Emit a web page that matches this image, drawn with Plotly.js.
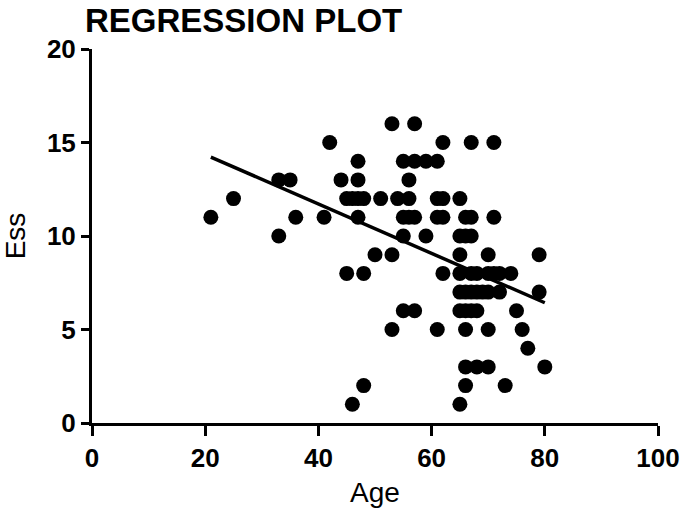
<!DOCTYPE html>
<html>
<head>
<meta charset="utf-8">
<script src="https://cdn.plot.ly/plotly-3.0.1.min.js"></script>
<style>
html,body{margin:0;padding:0;background:#fff;}
#chart{width:685px;height:518px;}
</style>
</head>
<body>
<div id="chart"></div>
<script>
// Scatter data (Age, Ess)
const age = [
  53, 57,
  42, 62, 67, 71,
  47, 55, 57, 59, 61,
  33, 35, 44, 47, 56,
  25, 45, 46, 47, 48, 51, 54, 56, 61, 62, 65,
  21, 36, 41, 47, 55, 56, 57, 61, 62, 66, 67, 71,
  33, 55, 59, 65, 66, 67,
  50, 53, 65, 70, 79,
  45, 48, 62, 65, 67, 68, 70, 71, 72, 74,
  65, 66, 67, 68, 69, 70, 72, 79,
  55, 57, 65, 66, 67, 68, 75,
  53, 61, 66, 70, 76,
  77,
  66, 68, 70, 80,
  48, 66, 73,
  46, 65
];
const ess = [
  16, 16,
  15, 15, 15, 15,
  14, 14, 14, 14, 14,
  13, 13, 13, 13, 13,
  12, 12, 12, 12, 12, 12, 12, 12, 12, 12, 12,
  11, 11, 11, 11, 11, 11, 11, 11, 11, 11, 11, 11,
  10, 10, 10, 10, 10, 10,
  9, 9, 9, 9, 9,
  8, 8, 8, 8, 8, 8, 8, 8, 8, 8,
  7, 7, 7, 7, 7, 7, 7, 7,
  6, 6, 6, 6, 6, 6, 6,
  5, 5, 5, 5, 5,
  4,
  3, 3, 3, 3,
  2, 2, 2,
  1, 1
];
// Regression line end points
const fitAge = [21, 80];
const fitEss = [14.22, 6.43];
// Tick values
const xTicks = [0, 20, 40, 60, 80, 100];
const yTicks = [0, 5, 10, 15, 20];

const FONT = 'Liberation Sans, Arial, Helvetica, sans-serif';

const traces = [
  {
    x: age, y: ess, type: 'scatter', mode: 'markers',
    marker: {color: '#000', size: 15, line: {width: 0}},
    cliponaxis: false, hoverinfo: 'none'
  },
  {
    x: fitAge, y: fitEss, type: 'scatter', mode: 'lines',
    line: {color: '#000', width: 3.5},
    cliponaxis: false, hoverinfo: 'none'
  }
];

const axisCommon = {
  showline: true, linecolor: '#000', linewidth: 3,
  ticks: 'outside', tickcolor: '#000', tickwidth: 3,
  showgrid: false, zeroline: false,
  tickfont: {family: FONT, size: 26, color: '#000', weight: 'bold'}
};

const layout = {
  width: 685, height: 518,
  margin: {l: 92, r: 27, t: 49, b: 95},
  paper_bgcolor: '#fff', plot_bgcolor: '#fff',
  showlegend: false,
  title: {
    text: 'REGRESSION PLOT',
    font: {family: FONT, size: 33, color: '#000', weight: 'bold'},
    xref: 'container', yref: 'container',
    x: 85/685, xanchor: 'left',
    y: 1 - 20/518, yanchor: 'middle'
  },
  xaxis: Object.assign({}, axisCommon, {
    range: [0, 100], tickvals: xTicks, ticktext: xTicks.map(String),
    ticklen: 10,
    title: {text: 'Age', font: {family: FONT, size: 28, color: '#000'}, standoff: 11}
  }),
  yaxis: Object.assign({}, axisCommon, {
    range: [0, 20], tickvals: yTicks, ticktext: yTicks.map(String),
    ticklen: 8,
    title: {text: 'Ess', font: {family: FONT, size: 28, color: '#000'}, standoff: 14}
  })
};

Plotly.newPlot('chart', traces, layout, {staticPlot: true, displayModeBar: false});
</script>
</body>
</html>
